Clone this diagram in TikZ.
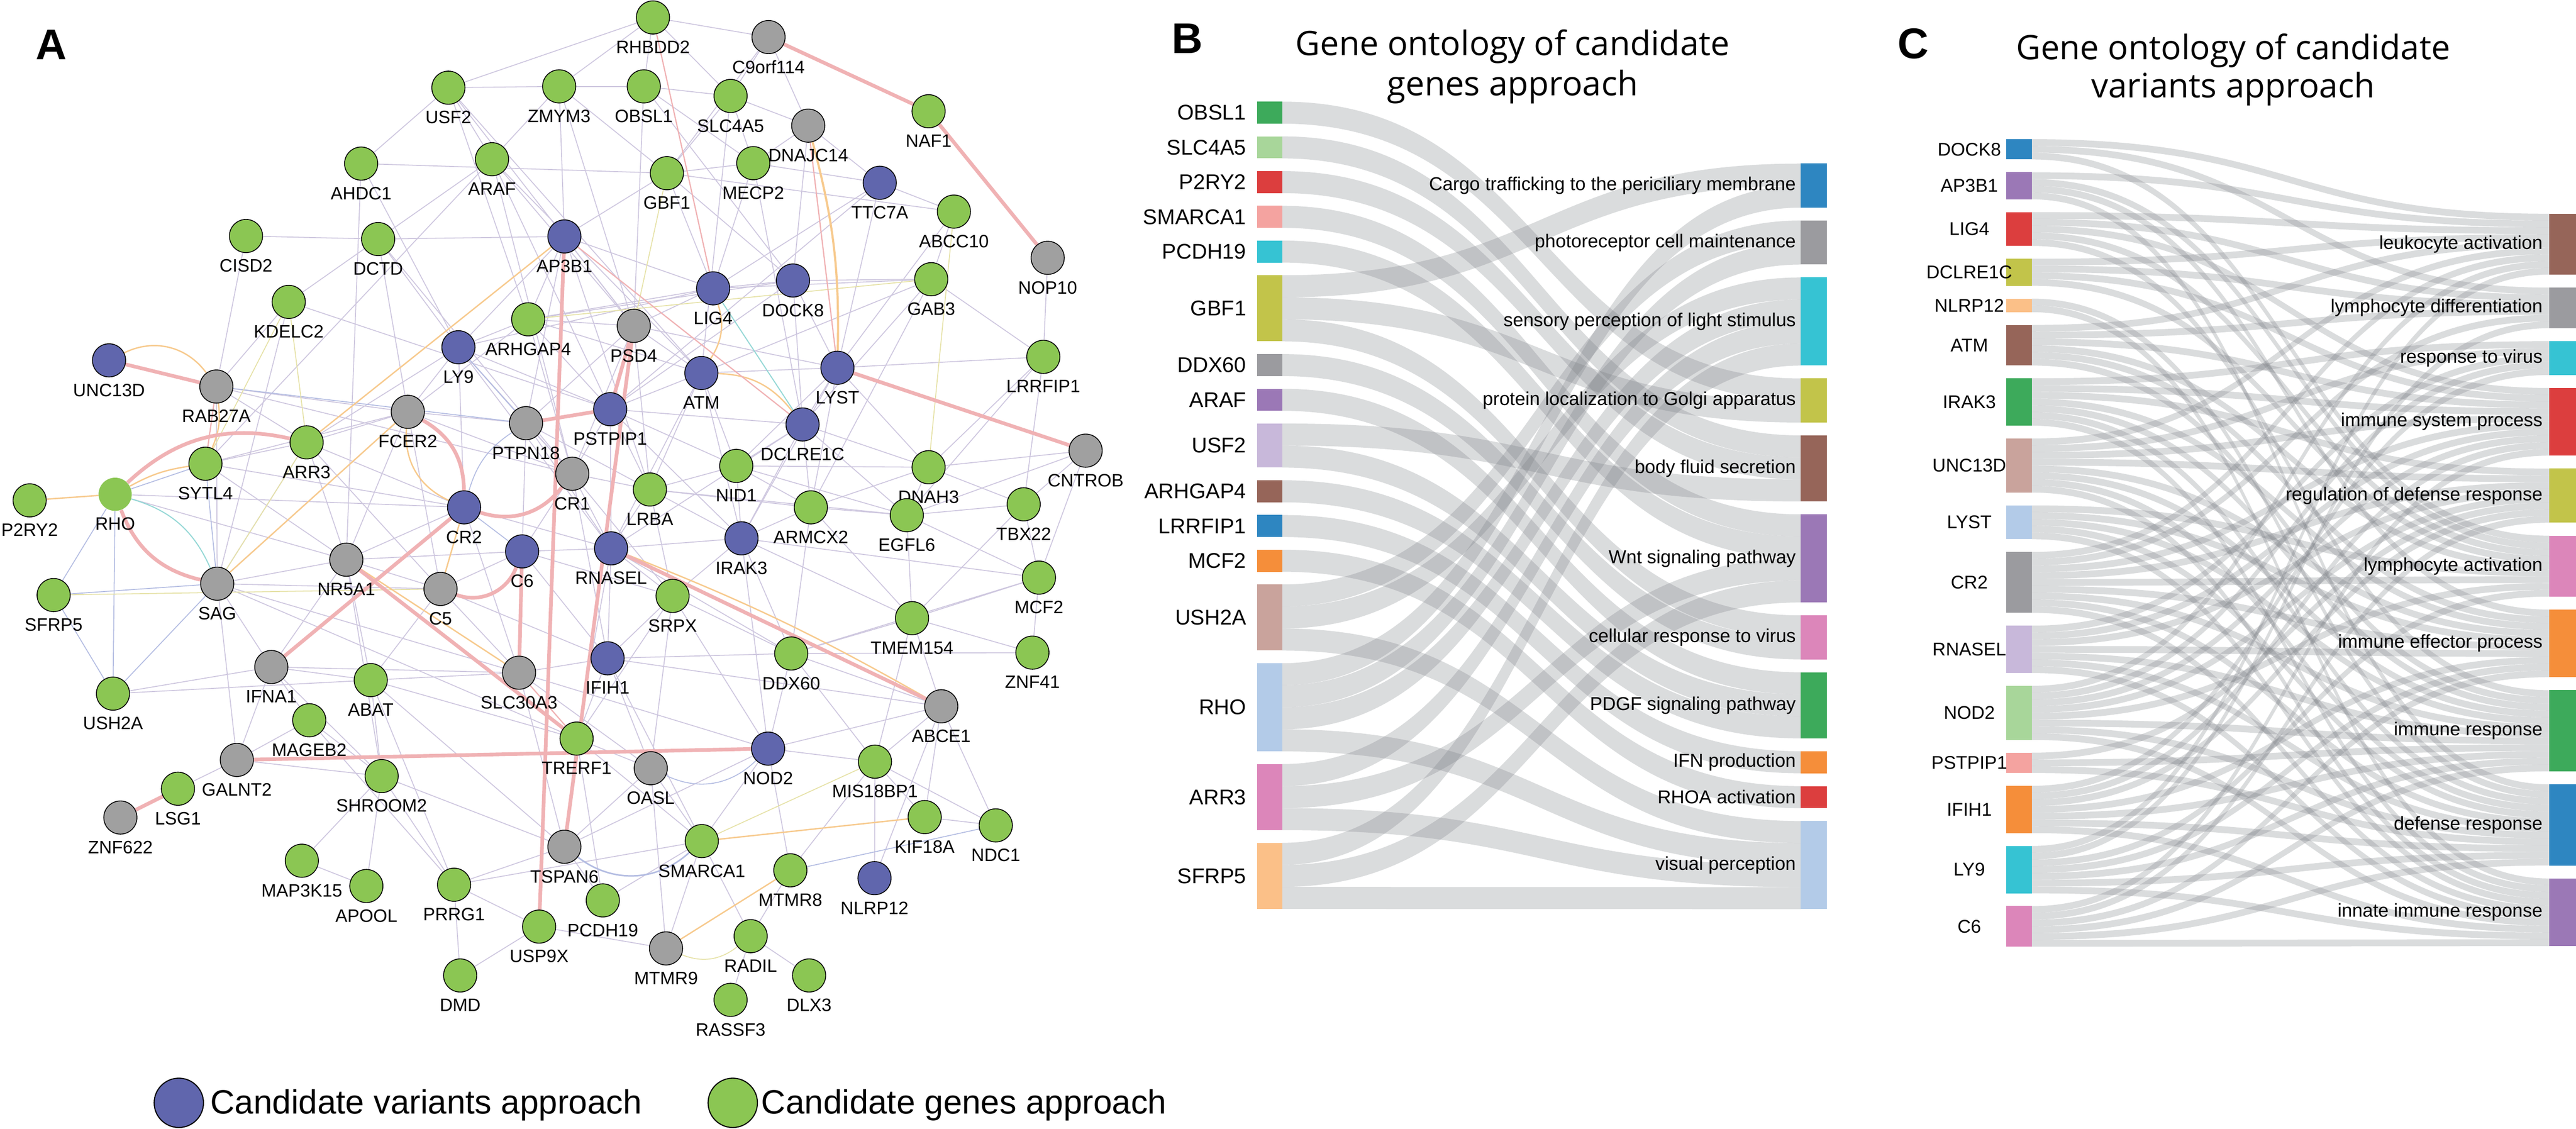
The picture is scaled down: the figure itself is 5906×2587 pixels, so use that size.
\documentclass[tikz,border=0pt]{standalone}
\usepackage{fontspec}
\setmainfont{Liberation Sans}
\newfontfamily\titlefont{Open Sans}
\usetikzlibrary{backgrounds}

% network colours
\definecolor{netgreen}{RGB}{139,198,83}
\definecolor{netblue}{RGB}{96,102,173}
\definecolor{netgrey}{RGB}{160,160,160}
\definecolor{epurple}{RGB}{206,199,223}
\definecolor{eblue}{RGB}{180,189,226}
\definecolor{eyellow}{RGB}{230,226,168}
\definecolor{eorange}{RGB}{247,202,142}
\definecolor{eteal}{RGB}{150,216,214}
\definecolor{epink}{RGB}{240,178,180}
% sankey colours
\definecolor{flowgrey}{RGB}{120,124,130}
\definecolor{sgreen}{RGB}{61,170,91}
\definecolor{slgreen}{RGB}{168,214,154}
\definecolor{sred}{RGB}{220,62,62}
\definecolor{slred}{RGB}{244,163,160}
\definecolor{scyan}{RGB}{54,195,211}
\definecolor{solive}{RGB}{194,196,74}
\definecolor{sgrey}{RGB}{155,155,159}
\definecolor{spurple}{RGB}{155,120,182}
\definecolor{slpurple}{RGB}{200,184,218}
\definecolor{sbrown}{RGB}{150,101,89}
\definecolor{sblue}{RGB}{46,134,193}
\definecolor{sorange}{RGB}{245,142,58}
\definecolor{slbrown}{RGB}{201,163,156}
\definecolor{slblue}{RGB}{179,203,232}
\definecolor{spink}{RGB}{220,134,186}
\definecolor{slorange}{RGB}{251,192,136}

\tikzset{
  net/.style={circle, draw=black, line width=0.55pt, minimum size=0.76cm, inner sep=0pt},
  gn/.style={net, fill=netgreen},
  bn/.style={net, fill=netblue},
  kn/.style={net, fill=netgrey},
  rn/.style={circle, fill=netgreen, minimum size=0.76cm, inner sep=0pt},
  glab/.style={font=\fontsize{11.7}{13}\selectfont, inner sep=0pt},
  pe/.style={draw=epurple, line width=0.6pt},
  be/.style={draw=eblue, line width=0.6pt},
  ye/.style={draw=eyellow, line width=0.6pt},
  oe/.style={draw=eorange, line width=0.9pt},
  te/.style={draw=eteal, line width=0.7pt},
  kt/.style={draw=epink, line width=0.8pt},
  ke/.style={draw=epink, line width=2.4pt},
  flow/.style={fill=flowgrey, fill opacity=0.27},
  panel/.style={font=\fontsize{28}{30}\selectfont\bfseries},
  gotitle/.style={font=\titlefont\fontsize{22}{26}\selectfont, anchor=base},
  bgene/.style={font=\fontsize{13.9}{15}\selectfont, anchor=east, inner sep=0pt},
  cgene/.style={font=\fontsize{12}{14}\selectfont, inner sep=0pt},
  term/.style={font=\fontsize{12.2}{14}\selectfont, anchor=east, inner sep=0pt},
  legtext/.style={font=\fontsize{22}{26}\selectfont, anchor=base west, inner sep=0pt}
}

\begin{document}
\begin{tikzpicture}[x=0.01cm, y=-0.01cm, label distance=0.14cm]
  \useasboundingbox (0,0) rectangle (5906,2587);

  %% ---------------- A: network ----------------
  \node[panel] (pa) at (118,102) {A};

  \foreach \n/\x/\y/\s in {
    RHBDD2/1497/40/gn, C9orf114/1762/85/kn, USF2/1028/201/gn, ZMYM3/1282/198/gn,
    OBSL1/1476/198/gn, SLC4A5/1675/220/gn, DNAJC14/1853/288/kn, NAF1/2129/255/gn,
    AHDC1/828/375/gn, ARAF/1128/365/gn, GBF1/1529/397/gn, MECP2/1727/374/gn,
    TTC7A/2017/419/bn, ABCC10/2187/485/gn, CISD2/564/541/gn, DCTD/867/548/gn,
    AP3B1/1294/542/bn, NOP10/2402/591/kn, LIG4/1635/661/bn, DOCK8/1818/643/bn,
    GAB3/2135/640/gn, KDELC2/662/692/gn, ARHGAP4/1211/732/gn, PSD4/1453/747/kn,
    LY9/1051/796/bn, UNC13D/250/826/bn, ATM/1608/855/bn, LYST/1920/843/bn,
    LRRFIP1/2392/818/gn, RAB27A/496/886/kn, PSTPIP1/1399/938/bn, FCER2/935/944/kn,
    PTPN18/1206/970/kn, DCLRE1C/1840/973/bn, SYTL4/471/1063/gn, ARR3/703/1014/gn,
    CNTROB/2489/1033/kn, CR1/1312/1086/kn, NID1/1688/1068/gn, DNAH3/2129/1071/gn,
    LRBA/1490/1122/gn, P2RY2/68/1147/gn, RHO/264/1133/rn, CR2/1064/1163/bn,
    ARMCX2/1859/1163/gn, EGFL6/2079/1181/gn, TBX22/2347/1156/gn, IRAK3/1700/1234/bn,
    RNASEL/1401/1257/bn, C6/1197/1264/bn, NR5A1/794/1283/kn, SAG/498/1338/kn,
    C5/1010/1350/kn, SFRP5/123/1364/gn, MCF2/2382/1324/gn, SRPX/1542/1366/gn,
    TMEM154/2091/1417/gn, IFIH1/1393/1509/bn, DDX60/1814/1498/gn, ZNF41/2367/1496/gn,
    IFNA1/622/1529/kn, ABAT/850/1559/gn, SLC30A3/1190/1542/kn, USH2A/259/1590/gn,
    ABCE1/2158/1619/kn, MAGEB2/709/1651/gn, TRERF1/1322/1693/gn, NOD2/1761/1716/bn,
    GALNT2/543/1742/kn, OASL/1492/1761/kn, MIS18BP1/2006/1746/gn, SHROOM2/875/1779/gn,
    LSG1/408/1808/gn, ZNF622/276/1874/kn, KIF18A/2120/1873/gn, NDC1/2283/1892/gn,
    TSPAN6/1294/1941/kn, SMARCA1/1609/1928/gn, MAP3K15/692/1973/gn, APOOL/840/2031/gn,
    PRRG1/1041/2028/gn, MTMR8/1812/1995/gn, NLRP12/2005/2013/bn, PCDH19/1382/2064/gn,
    USP9X/1236/2124/gn, MTMR9/1527/2174/kn, RADIL/1721/2146/gn, DMD/1055/2236/gn,
    DLX3/1855/2236/gn, RASSF3/1675/2292/gn}
    \node[\s, label={[glab]below:\n}] (\n) at (\x,\y) {};

  \begin{scope}[on background layer]
    % thin co-expression edges
    \foreach \ea/\eb in {
      USF2/AHDC1, USF2/RHBDD2, USF2/ARAF, USF2/PSD4, USF2/ARHGAP4, USF2/ZMYM3, USF2/ATM,
      ZMYM3/ARAF, ZMYM3/OBSL1, ZMYM3/RHBDD2, ZMYM3/AP3B1, ZMYM3/GBF1, ZMYM3/PSD4,
      AHDC1/GBF1, AHDC1/NR5A1, AHDC1/LY9,
      ARAF/DCTD, ARAF/PSD4, ARAF/ATM, ARAF/CR1, ARAF/SYTL4, ARAF/PSTPIP1,
      CISD2/DCTD, CISD2/RAB27A,
      DCTD/AP3B1, DCTD/KDELC2, DCTD/FCER2, DCTD/LY9, DCTD/CR1,
      KDELC2/PSTPIP1, KDELC2/SAG, KDELC2/RAB27A,
      RAB27A/FCER2, RAB27A/SAG, RAB27A/CR1, RAB27A/ARR3,
      RHBDD2/OBSL1, RHBDD2/C9orf114, RHBDD2/SLC4A5,
      C9orf114/SLC4A5, C9orf114/DNAJC14, C9orf114/GBF1,
      OBSL1/SLC4A5, OBSL1/PSD4, OBSL1/DOCK8, OBSL1/MECP2,
      SLC4A5/GBF1, SLC4A5/ATM, SLC4A5/MECP2, SLC4A5/DNAJC14,
      DNAJC14/MECP2, DNAJC14/TTC7A, DNAJC14/DOCK8,
      GBF1/MECP2, GBF1/ABCC10, GBF1/AP3B1, GBF1/DOCK8, GBF1/LIG4,
      MECP2/DCLRE1C, MECP2/TTC7A, MECP2/LIG4,
      TTC7A/LIG4, TTC7A/LYST, TTC7A/PSTPIP1, TTC7A/ABCC10,
      ABCC10/GAB3, ABCC10/LYST, NOP10/LRRFIP1,
      LIG4/DOCK8, LIG4/GAB3, LIG4/PSD4, LIG4/ARHGAP4, LIG4/LY9,
      DOCK8/GAB3, DOCK8/DCLRE1C, DOCK8/LYST, DOCK8/ARHGAP4, DOCK8/PSTPIP1,
      GAB3/DCLRE1C, GAB3/ATM, GAB3/ARMCX2, GAB3/LRRFIP1,
      LRRFIP1/LYST, LRRFIP1/DNAH3, LRRFIP1/TBX22, LRRFIP1/EGFL6,
      AP3B1/PSD4, AP3B1/LIG4, AP3B1/LY9, AP3B1/PTPN18, AP3B1/ARHGAP4, AP3B1/LRBA,
      ARHGAP4/PSD4, ARHGAP4/LY9, ARHGAP4/PSTPIP1, ARHGAP4/CR1, ARHGAP4/ATM, ARHGAP4/FCER2,
      PSD4/ATM, PSD4/PTPN18, PSD4/CR1, PSD4/LRBA, PSD4/LYST,
      LY9/PTPN18, LY9/FCER2, LY9/CR1, LY9/PSTPIP1, LY9/ARR3, LY9/CR2, LY9/RNASEL,
      ATM/LYST, ATM/PSTPIP1, ATM/NID1, ATM/LRBA, ATM/IRAK3, ATM/RNASEL,
      LYST/DCLRE1C, LYST/ARMCX2, LYST/NID1, LYST/DNAH3, LYST/IRAK3,
      PSTPIP1/CR1, PSTPIP1/LRBA, PSTPIP1/RNASEL, PSTPIP1/DCLRE1C, PSTPIP1/IRAK3, PSTPIP1/NID1,
      FCER2/PTPN18, FCER2/CR1, FCER2/ARR3, FCER2/SYTL4, FCER2/NR5A1, FCER2/C5, FCER2/SAG,
      PTPN18/CR1, PTPN18/RNASEL, PTPN18/C6, PTPN18/LRBA,
      DCLRE1C/NID1, DCLRE1C/ARMCX2, DCLRE1C/IRAK3, DCLRE1C/EGFL6, DCLRE1C/RNASEL, DCLRE1C/DNAH3,
      SYTL4/ARR3, SYTL4/CR2, SYTL4/NR5A1,
      ARR3/SAG, ARR3/CR2, ARR3/NR5A1, ARR3/C5,
      CNTROB/DNAH3, CNTROB/TBX22, CNTROB/MCF2, CNTROB/EGFL6,
      CR1/LRBA, CR1/RNASEL, CR1/C6, CR1/IFIH1, CR1/SRPX,
      NID1/LRBA, NID1/ARMCX2, NID1/IRAK3, NID1/EGFL6, NID1/DNAH3,
      DNAH3/EGFL6, DNAH3/ARMCX2, DNAH3/TBX22,
      LRBA/RNASEL, LRBA/IRAK3, LRBA/EGFL6, LRBA/SRPX, LRBA/ARMCX2,
      RHO/CR2, RHO/NR5A1,
      CR2/NR5A1, CR2/C5, CR2/SLC30A3, CR2/RNASEL,
      ARMCX2/EGFL6, ARMCX2/IRAK3, ARMCX2/TMEM154, ARMCX2/DDX60,
      EGFL6/TBX22, EGFL6/TMEM154, EGFL6/MCF2, TBX22/MCF2, TBX22/TMEM154,
      IRAK3/RNASEL, IRAK3/SRPX, IRAK3/DDX60, IRAK3/MCF2, IRAK3/NOD2, IRAK3/TMEM154,
      RNASEL/C6, RNASEL/SRPX, RNASEL/IFIH1, RNASEL/DDX60, RNASEL/TRERF1,
      C6/C5, C6/IFIH1, C6/SRPX, C6/NR5A1,
      NR5A1/SAG, NR5A1/C5, NR5A1/ABAT, NR5A1/IFNA1, NR5A1/SHROOM2,
      SAG/IFNA1, SAG/GALNT2, SAG/C5, SAG/TRERF1, SAG/SLC30A3,
      C5/ABAT, C5/SLC30A3, C5/IFIH1,
      MCF2/TMEM154, MCF2/ZNF41, MCF2/DDX60,
      SRPX/IFIH1, SRPX/DDX60, SRPX/TRERF1, SRPX/NOD2, SRPX/OASL,
      TMEM154/DDX60, TMEM154/ZNF41, TMEM154/ABCE1, TMEM154/MIS18BP1,
      IFIH1/DDX60, IFIH1/SLC30A3, IFIH1/TRERF1, IFIH1/OASL, IFIH1/ABCE1, IFIH1/SMARCA1,
      DDX60/ZNF41, DDX60/NOD2, DDX60/MIS18BP1, DDX60/ABCE1,
      IFNA1/ABAT, IFNA1/SLC30A3, IFNA1/GALNT2, IFNA1/USH2A, IFNA1/MAGEB2, IFNA1/SHROOM2,
      ABAT/SLC30A3, ABAT/SHROOM2, ABAT/TSPAN6, ABAT/TRERF1, ABAT/PRRG1,
      SLC30A3/OASL, SLC30A3/NOD2, SLC30A3/TSPAN6, USH2A/ABAT,
      ABCE1/MIS18BP1, ABCE1/NOD2, ABCE1/KIF18A, ABCE1/NDC1, ABCE1/NLRP12,
      MAGEB2/GALNT2, MAGEB2/SHROOM2, MAGEB2/PRRG1,
      TRERF1/OASL, TRERF1/TSPAN6, TRERF1/SMARCA1, TRERF1/PCDH19,
      NOD2/MIS18BP1, NOD2/SMARCA1, NOD2/TSPAN6, NOD2/MTMR8,
      GALNT2/LSG1, GALNT2/SHROOM2, OASL/SMARCA1, OASL/TSPAN6, OASL/MTMR9,
      MIS18BP1/KIF18A, MIS18BP1/MTMR8, MIS18BP1/NLRP12, MIS18BP1/NDC1,
      SHROOM2/TSPAN6, SHROOM2/PRRG1, SHROOM2/APOOL, SHROOM2/MAP3K15,
      KIF18A/NDC1, TSPAN6/PRRG1, TSPAN6/PCDH19,
      SMARCA1/PCDH19, SMARCA1/MTMR9, SMARCA1/RADIL, MAP3K15/APOOL,
      PRRG1/DMD, PRRG1/USP9X, PRRG1/SMARCA1, USP9X/MTMR9, USP9X/DMD,
      RADIL/DLX3, RADIL/RASSF3, MTMR8/RADIL}
      \draw[pe] (\ea) -- (\eb);
    % pathway edges
    \foreach \ea/\eb in {RHO/SFRP5, RHO/USH2A, SFRP5/USH2A, SAG/USH2A, RHO/SYTL4,
      RAB27A/PTPN18, SAG/SFRP5, MTMR8/NDC1, CR2/C6, SYTL4/SAG, LY9/PTPN18}
      \draw[be] (\ea) -- (\eb);
    \draw[be] (PTPN18) to[bend right=20] (CR2);
    \draw[be] (NOD2) to[bend left=35] (OASL);
    \draw[be, line width=1pt] (TSPAN6) to[bend right=40] (SMARCA1);
    % shared domains
    \foreach \ea/\eb in {KDELC2/SYTL4, KDELC2/ARR3, GAB3/ARHGAP4, ABCC10/DNAH3, PSD4/GBF1,
      SFRP5/C5, SMARCA1/MIS18BP1, ARR3/SAG}
      \draw[ye] (\ea) -- (\eb);
    \draw[ye] (MTMR9) to[bend right=30] (RADIL);
    % co-localization
    \foreach \ea/\eb in {AP3B1/ARR3, RHO/P2RY2, C5/CR2, SMARCA1/KIF18A, MTMR9/MTMR8,
      NR5A1/SLC30A3, FCER2/SAG}
      \draw[oe] (\ea) -- (\eb);
    \draw[oe] (UNC13D) to[bend left=40] (RAB27A);
    \draw[oe, line width=1.4pt] (DNAJC14) to[bend left=8] (LYST);
    \draw[oe] (RHO) to[bend left=10] (SYTL4);
    \draw[oe] (FCER2) to[bend right=35] (CR2);
    \draw[oe] (RNASEL) to[bend left=4] (ABCE1);
    \draw[oe] (LIG4) to[bend left=25] (ATM);
    \draw[oe] (ATM) to[bend left=25] (DCLRE1C);
    \draw[oe] (RAB27A) to[bend left=15] (SYTL4);
    % genetic interactions
    \draw[te] (RHO) to[bend left=25] (SAG);
    \draw[te] (LIG4) -- (DCLRE1C);
    % physical interactions
    \foreach \ea/\eb in {RHBDD2/LIG4, DNAJC14/LYST, AP3B1/DCLRE1C, RAB27A/SYTL4, SLC30A3/TRERF1}
      \draw[kt] (\ea) -- (\eb);
    \foreach \ea/\eb in {C9orf114/NAF1, NAF1/NOP10, UNC13D/RAB27A, CR2/IFNA1, NR5A1/TRERF1,
      GALNT2/NOD2, LSG1/ZNF622, AP3B1/USP9X, PSD4/TSPAN6, PSTPIP1/PTPN18, PSD4/PSTPIP1,
      LYST/CNTROB, RNASEL/ABCE1, C6/SLC30A3}
      \draw[ke] (\ea) -- (\eb);
    \draw[ke] (RHO) to[bend left=28] (ARR3);
    \draw[ke] (RHO) to[bend right=28] (SAG);
    \draw[ke] (CR2) to[bend right=35] (CR1);
    \draw[ke] (C5) to[bend right=45] (C6);
    \draw[ke] (FCER2) to[bend left=30] (CR2);
  \end{scope}

  % legend
  \node[circle, fill=netblue, draw=black, line width=0.7pt, minimum size=1.13cm] (legv) at (410,2528) {};
  \node[legtext] (legvt) at (482,2553) {Candidate variants approach};
  \node[circle, fill=netgreen, draw=black, line width=0.7pt, minimum size=1.13cm] (legg) at (1680,2528) {};
  \node[legtext] (leggt) at (1745,2553) {Candidate genes approach};

  %% ---------------- B: candidate genes sankey ----------------
  \node[panel] (pb) at (2722,88) {B};
  \node[gotitle] (tb1) at (3468,127) {Gene ontology of candidate};
  \node[gotitle] (tb2) at (3468,219) {genes approach};

  \def\brt{{375,505.5,636,867.5,998,1179,1410.5,1541,1722,1802,1882}}
  \foreach \j in {0,...,10} {\expandafter\xdef\csname bcnt\j\endcsname{0}}
  \foreach \gy/\lst in {233/{3}, 312.6/{4}, 392.2/{4}, 471.8/{5}, 551.4/{5}, 631/{0,3,6},
      811.6/{6}, 891.2/{7}, 970.8/{4,7}, 1100.9/{7}, 1180.5/{8}, 1260.1/{9},
      1339.7/{1,2,10}, 1520.3/{0,1,2,10}, 1751.4/{2,5,10}, 1932/{2,5,10}} {
    \foreach \tm [count=\k from 0] in \lst {
      \edef\cnt{\csname bcnt\tm\endcsname}
      \pgfmathsetmacro\sy{\gy+50.5*\k}
      \pgfmathsetmacro\ty{\brt[\tm]+50.5*\cnt}
      \fill[flow] (2940,\sy) .. controls (3534,\sy) and (3534,\ty) .. (4128,\ty)
        -- (4128,\ty+50.5) .. controls (3534,\ty+50.5) and (3534,\sy+50.5) .. (2940,\sy+50.5) -- cycle;
      \pgfmathtruncatemacro\nc{\cnt+1}
      \expandafter\xdef\csname bcnt\tm\endcsname{\nc}
    }
  }

  \foreach \n/\gy/\h/\cl in {OBSL1/233/50.5/sgreen, SLC4A5/312.6/50.5/slgreen,
      P2RY2/392.2/50.5/sred, SMARCA1/471.8/50.5/slred, PCDH19/551.4/50.5/scyan,
      GBF1/631/151.5/solive, DDX60/811.6/50.5/sgrey, ARAF/891.2/50.5/spurple,
      USF2/970.8/101/slpurple, ARHGAP4/1100.9/50.5/sbrown, LRRFIP1/1180.5/50.5/sblue,
      MCF2/1260.1/50.5/sorange, USH2A/1339.7/151.5/slbrown, RHO/1520.3/202/slblue,
      ARR3/1751.4/151.5/spink, SFRP5/1932/151.5/slorange} {
    \fill[\cl] (2882,\gy) rectangle (2940,\gy+\h);
    \node[bgene] (b\n) at (2858,\gy+\h/2) {\n};
  }

  \foreach \ix/\txt/\gy/\h/\cl in {
      0/Cargo trafficking to the periciliary membrane/375/101/sblue,
      1/photoreceptor cell maintenance/505.5/101/sgrey,
      2/sensory perception of light stimulus/636/202/scyan,
      3/protein localization to Golgi apparatus/867.5/101/solive,
      4/body fluid secretion/998/151.5/sbrown,
      5/Wnt signaling pathway/1179/202/spurple,
      6/cellular response to virus/1410.5/101/spink,
      7/PDGF signaling pathway/1541/151.5/sgreen,
      8/IFN production/1722/50.5/sorange,
      9/RHOA activation/1802/50.5/sred,
      10/visual perception/1882/202/slblue} {
    \fill[\cl] (4128,\gy) rectangle (4188,\gy+\h);
    \node[term] (bt\ix) at (4118,\gy+\h/2) {\txt};
  }

  %% ---------------- C: candidate variants sankey ----------------
  \node[panel] (pc) at (4387,100) {C};
  \node[gotitle] (tc1) at (5120,136) {Gene ontology of candidate};
  \node[gotitle] (tc2) at (5120,224) {variants approach};

  \def\crt{{490,659.3,782.1,889.4,1074.2,1228,1397.3,1582.1,1797.9,2013.7}}
  \foreach \j in {0,...,9} {\expandafter\xdef\csname ccnt\j\endcsname{0}}
  \foreach \gy/\lst in {319/{0,1,5}, 394.9/{0,5,6,8}, 486.2/{0,1,3,5,7}, 593.1/{0,1,3,5},
      684.5/{8,9}, 744.9/{0,1,3,5,6,7}, 867.2/{2,3,4,6,7,8,9}, 1005.1/{0,2,3,4,6,7,8,9},
      1158.5/{5,6,7,8,9}, 1265.3/{0,1,3,4,5,6,7,8,9}, 1434.2/{2,3,4,6,7,8,9},
      1572.1/{0,2,3,4,5,7,8,9}, 1725.4/{4,7,8}, 1801.3/{2,3,4,6,7,8,9},
      1939.2/{0,1,5,6,7,8,9}, 2077.1/{3,4,6,7,8,9}} {
    \foreach \tm [count=\k from 0] in \lst {
      \edef\cnt{\csname ccnt\tm\endcsname}
      \pgfmathsetmacro\sy{\gy+15.5*\k}
      \pgfmathsetmacro\ty{\crt[\tm]+15.5*\cnt}
      \fill[flow] (4658,\sy) .. controls (5251,\sy) and (5251,\ty) .. (5845,\ty)
        -- (5845,\ty+15.5) .. controls (5251,\ty+15.5) and (5251,\sy+15.5) .. (4658,\sy+15.5) -- cycle;
      \pgfmathtruncatemacro\nc{\cnt+1}
      \expandafter\xdef\csname ccnt\tm\endcsname{\nc}
    }
  }

  \foreach \n/\gy/\h/\cl in {DOCK8/319/46.5/sblue, AP3B1/394.9/62/spurple,
      LIG4/486.2/77.5/sred, DCLRE1C/593.1/62/solive, NLRP12/684.5/31/slorange,
      ATM/744.9/93/sbrown, IRAK3/867.2/108.5/sgreen, UNC13D/1005.1/124/slbrown,
      LYST/1158.5/77.5/slblue, CR2/1265.3/139.5/sgrey, RNASEL/1434.2/108.5/slpurple,
      NOD2/1572.1/124/slgreen, PSTPIP1/1725.4/46.5/slred, IFIH1/1801.3/108.5/sorange,
      LY9/1939.2/108.5/scyan, C6/2077.1/93/spink} {
    \fill[\cl] (4599,\gy) rectangle (4658,\gy+\h);
    \node[cgene] (c\n) at (4515,\gy+\h/2) {\n};
  }

  \foreach \ix/\txt/\gy/\h/\cl in {
      0/leukocyte activation/490/139.5/sbrown,
      1/lymphocyte differentiation/659.3/93/sgrey,
      2/response to virus/782.1/77.5/scyan,
      3/immune system process/889.4/155/sred,
      4/regulation of defense response/1074.2/124/solive,
      5/lymphocyte activation/1228/139.5/spink,
      6/immune effector process/1397.3/155/sorange,
      7/immune response/1582.1/186/sgreen,
      8/defense response/1797.9/186/sblue,
      9/innate immune response/2013.7/155/spurple} {
    \fill[\cl] (5845,\gy) rectangle (5906,\gy+\h);
    \node[term] (ct\ix) at (5830,\gy+\h/2) {\txt};
  }
\end{tikzpicture}
\end{document}
